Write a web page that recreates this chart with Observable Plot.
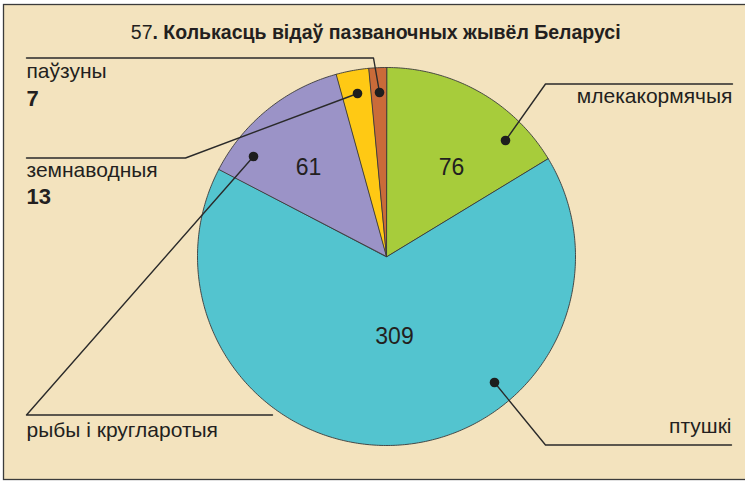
<!DOCTYPE html>
<html>
<head>
<meta charset="utf-8">
<script src="https://cdn.jsdelivr.net/npm/d3@7"></script>
<script src="https://cdn.jsdelivr.net/npm/@observablehq/plot@0.6"></script>
<style>
  html, body { margin: 0; padding: 0; background: #fff; }
  svg { display: block; }
</style>
</head>
<body>
<div id="chart"></div>
<script>
// ---- data ----
const titleNumber = "57";
const titleText = ". Колькасць відаў пазваночных жывёл Беларусі";
const categories = ["млекакормячыя", "птушкі", "рыбы і кругларотыя", "земнаводныя", "паўзуны"];
const values = [76, 309, 61, 13, 7];
const colors = ["#A7CC3B", "#53C4CF", "#9B93C7", "#FFC914", "#CA6B39"];

// ---- layout ----
const W = 745, H = 481;
const cx = 386, cy = 256, R = 189;
const font = "'Liberation Sans', Arial, sans-serif";
const ink = "#231f20";

const pie = d3.pie().sort(null).value(d => d.value).startAngle(0).endAngle(2 * Math.PI);
const arcs = pie(categories.map((c, i) => ({cat: c, value: values[i], color: colors[i]})));

const pt = (a, r) => [cx + r * Math.sin(a), cy - r * Math.cos(a)];
const slicePts = [];
arcs.forEach((a, i) => {
  slicePts.push({i, cat: a.data.cat, x: cx, y: cy});
  const n = Math.max(4, Math.ceil((a.endAngle - a.startAngle) * 80));
  for (let k = 0; k <= n; k++) {
    const t = a.startAngle + (a.endAngle - a.startAngle) * k / n;
    const [x, y] = pt(t, R);
    slicePts.push({i, cat: a.data.cat, x, y});
  }
});
const order = [1, 0, 2, 3, 4];
const sliceSorted = order.flatMap(o => slicePts.filter(p => p.i === o));

// leader lines (layout)
const leaders = [
  {cat: "паўзуны", pts: [[26, 57.5], [373, 57.5], [379, 92]]},
  {cat: "земнаводныя", pts: [[26, 157.5], [185, 157.5], [357, 93]]},
  {cat: "рыбы і кругларотыя", pts: [[253, 156], [26, 414.5], [272, 414.5]]},
  {cat: "млекакормячыя", pts: [[505, 140], [545, 83.5], [732, 83.5]]},
  {cat: "птушкі", pts: [[494, 382], [545, 444.5], [731, 444.5]]}
];
const leaderPts = leaders.flatMap(l => l.pts.map(([x, y]) => ({cat: l.cat, x, y})));
const dots = leaders.map(l => {
  const p = l.cat === "паўзуны" || l.cat === "земнаводныя" ? l.pts[2] : l.pts[0];
  return {cat: l.cat, x: p[0], y: p[1]};
});

const leftLabels = [
  {text: "паўзуны", x: 26, y: 71},
  {text: "земнаводныя", x: 26, y: 170},
  {text: "рыбы і кругларотыя", x: 26, y: 430}
];
const leftValues = [
  {text: String(values[4]), x: 26, y: 98},
  {text: String(values[3]), x: 26, y: 196}
];
const rightLabels = [
  {text: "млекакормячыя", x: 732, y: 96},
  {text: "птушкі", x: 731, y: 426}
];
const innerLabels = [
  {text: String(values[0]), x: 451, y: 167},
  {text: String(values[1]), x: 394, y: 336},
  {text: String(values[2]), x: 308, y: 167}
];

const chart = Plot.plot({
  width: W, height: H, margin: 0,
  x: {domain: [0, W], range: [0, W], axis: null},
  y: {domain: [0, H], range: [0, H], axis: null},
  color: {domain: categories, range: colors},
  style: {background: "#fff", fontFamily: font},
  marks: [
    Plot.rect([0], {x1: () => 3.5, x2: () => 760, y1: () => 4.5, y2: () => 479.5,
      fill: "#F3E3BE", stroke: "#3b3b3b", strokeWidth: 1.3}),
    Plot.line(sliceSorted, {x: "x", y: "y", z: "cat", fill: "cat", stroke: "#3a3a3a",
      strokeWidth: 0.9, curve: "linear-closed", strokeLinejoin: "round"}),
    Plot.line(leaderPts, {x: "x", y: "y", z: "cat", stroke: "#2a2a2a", strokeWidth: 1.4}),
    Plot.dot(dots, {x: "x", y: "y", r: 4.8, fill: "#1e1e1e"}),
    Plot.text(innerLabels, {x: "x", y: "y", text: "text", fontSize: 23, fill: ink}),
    Plot.text(leftLabels, {x: "x", y: "y", text: "text", textAnchor: "start", fontSize: 21, fill: ink}),
    Plot.text(rightLabels, {x: "x", y: "y", text: "text", textAnchor: "end", fontSize: 21, fill: ink}),
    Plot.text(leftValues, {x: "x", y: "y", text: "text", textAnchor: "start", fontSize: 22, fontWeight: "bold", fill: ink}),
    Plot.text([titleNumber], {x: () => 152, y: () => 32, text: d => d, textAnchor: "end",
      fontSize: 19.5, fill: ink}),
    Plot.text([titleText], {x: () => 152, y: () => 32, text: d => d, textAnchor: "start",
      fontSize: 19.5, fontWeight: "bold", fill: ink})
  ]
});
document.getElementById("chart").appendChild(chart);
</script>
</body>
</html>
